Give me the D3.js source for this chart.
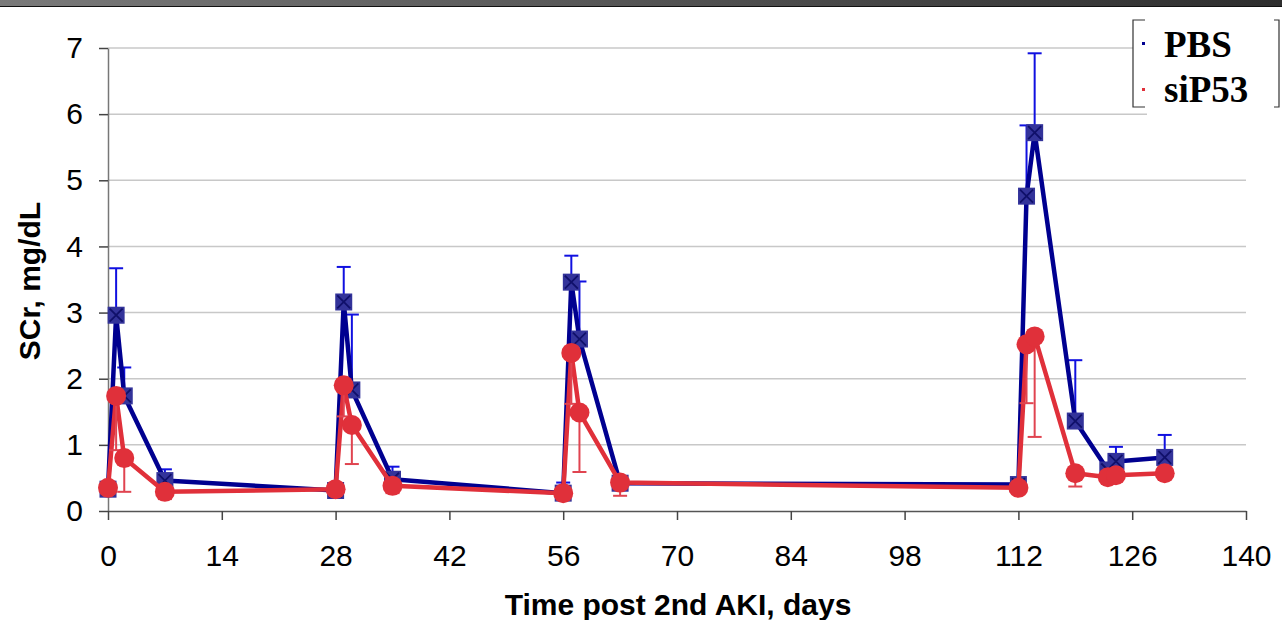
<!DOCTYPE html>
<html>
<head>
<meta charset="utf-8">
<script src="https://cdn.jsdelivr.net/npm/d3@7"></script>
<style>
  body { margin: 0; background: #fff; }
  svg { display: block; }
  .tick-lbl { font-family: "Liberation Sans", Arial, sans-serif; font-size: 30px; fill: #000; }
  .ttl { font-family: "Liberation Sans", Arial, sans-serif; font-size: 30px; font-weight: bold; fill: #000; }
  .leg { font-family: "Liberation Serif", "Times New Roman", serif; font-size: 37px; font-weight: bold; fill: #000; }
</style>
</head>
<body>
<svg id="chart" width="1282" height="620"></svg>
<script>
// days post 2nd AKI
let days = [0, 1, 2, 7, 28, 29, 30, 35, 56, 57, 58, 63, 112, 113, 114, 119, 123, 124, 130];

// PBS group: mean SCr and upper error
let pbs_mean = [0.33, 2.96, 1.74, 0.46, 0.31, 3.16, 1.83, 0.48, 0.27, 3.46, 2.60, 0.42, 0.40, 4.76, 5.72, 1.36, 0.62, 0.75, 0.81];
let pbs_err  = [0, 0.71, 0.43, 0.17, 0, 0.53, 1.14, 0.19, 0.16, 0.40, 0.87, 0, 0, 1.07, 1.20, 0.92, 0, 0.22, 0.34];

// siP53 group: mean SCr and lower error
let sip_mean = [0.35, 1.74, 0.80, 0.29, 0.33, 1.90, 1.30, 0.38, 0.27, 2.39, 1.49, 0.43, 0.35, 2.52, 2.64, 0.57, 0.51, 0.54, 0.57];
let sip_err  = [0.02, 0.82, 0.51, 0.11, 0, 0.47, 0.59, 0.11, 0, 0.77, 0.90, 0.20, 0.03, 0.89, 1.52, 0.20, 0.04, 0.04, 0];

let x_ticks = [0, 14, 28, 42, 56, 70, 84, 98, 112, 126, 140];
let y_ticks = [0, 1, 2, 3, 4, 5, 6, 7];
let series_names = ["PBS", "siP53"];

let svg = d3.select("#chart");

// grey title bar at the very top
let defs = svg.append("defs");
let grad = defs.append("linearGradient").attr("id", "topbar");
grad.append("stop").attr("offset", "0%").attr("stop-color", "#7a7a7a");
grad.append("stop").attr("offset", "100%").attr("stop-color", "#2e2e2e");
svg.append("rect").attr("x", 0).attr("y", 0).attr("width", 1282).attr("height", 6).attr("fill", "url(#topbar)");
svg.append("rect").attr("x", 0).attr("y", 6).attr("width", 1282).attr("height", 1).attr("fill", "#111");

let x = d3.scaleLinear().domain([0, 140]).range([108, 1246]);
let y = d3.scaleLinear().domain([0, 7]).range([511, 48]);

// gridlines
svg.append("g").selectAll("line")
  .data(y_ticks.filter(d => d > 0))
  .enter().append("line")
  .attr("x1", x(0)).attr("x2", x(140))
  .attr("y1", d => y(d)).attr("y2", d => y(d))
  .attr("stroke", "#c8c8c8").attr("stroke-width", 1.5);

// y axis
let yAxis = d3.axisLeft(y).tickValues(y_ticks).tickFormat(d3.format("d")).tickSize(9).tickSizeOuter(0).tickPadding(16);
let gy = svg.append("g").attr("transform", "translate(" + x(0) + ",0)").call(yAxis);
gy.select(".domain").attr("stroke", "#777").attr("stroke-width", 1.5);
gy.selectAll(".tick line").attr("stroke", "#444").attr("stroke-width", 1.5);
gy.selectAll(".tick text").attr("class", "tick-lbl").attr("font-size", null).attr("font-family", null);

// x axis
let xAxis = d3.axisBottom(x).tickValues(x_ticks).tickFormat(d3.format("d")).tickSize(9).tickSizeOuter(0).tickPadding(25);
let gx = svg.append("g").attr("transform", "translate(0," + y(0) + ")").call(xAxis);
gx.select(".domain").attr("stroke", "#555").attr("stroke-width", 1.5);
gx.selectAll(".tick line").attr("stroke", "#444").attr("stroke-width", 1.5);
gx.selectAll(".tick text").attr("class", "tick-lbl").attr("font-size", null).attr("font-family", null);

// axis titles
svg.append("text").attr("class", "ttl")
  .attr("x", 678).attr("y", 615).attr("text-anchor", "middle")
  .text("Time post 2nd AKI, days");
svg.append("text").attr("class", "ttl")
  .attr("transform", "translate(40,281) rotate(-90)").attr("text-anchor", "middle")
  .text("SCr, mg/dL");

let blue_line = "#000090", blue_err = "#1010e0", blue_fill = "#33339a";
let red_line = "#e0303a", red_err = "#e04450";

let pbs = days.map((d, i) => ({ day: d, v: pbs_mean[i], e: pbs_err[i] }));
let sip = days.map((d, i) => ({ day: d, v: sip_mean[i], e: sip_err[i] }));

let line = d3.line().x(d => x(d.day)).y(d => y(d.v));

function errorBars(data, color, dir) {
  let g = svg.append("g");
  let withErr = data.filter(d => d.e > 0);
  g.selectAll(".eb").data(withErr).enter().append("line")
    .attr("x1", d => x(d.day)).attr("x2", d => x(d.day))
    .attr("y1", d => y(d.v)).attr("y2", d => y(d.v + dir * d.e))
    .attr("stroke", color).attr("stroke-width", 2);
  g.selectAll(".cap").data(withErr).enter().append("line")
    .attr("x1", d => x(d.day) - 7).attr("x2", d => x(d.day) + 7)
    .attr("y1", d => y(d.v + dir * d.e)).attr("y2", d => y(d.v + dir * d.e))
    .attr("stroke", color).attr("stroke-width", 2);
}

// PBS series
errorBars(pbs, blue_err, 1);
svg.append("path").datum(pbs).attr("d", line)
  .attr("fill", "none").attr("stroke", blue_line).attr("stroke-width", 4.5).attr("stroke-linejoin", "round");
let sq = svg.append("g").selectAll("g").data(pbs).enter().append("g")
  .attr("transform", d => "translate(" + x(d.day) + "," + y(d.v) + ")");
sq.append("rect").attr("x", -8.5).attr("y", -8.5).attr("width", 17).attr("height", 17).attr("fill", blue_fill);
sq.append("path").attr("d", "M-6.5,-6.5L6.5,6.5M-6.5,6.5L6.5,-6.5").attr("stroke", "#10106a").attr("stroke-width", 1.8);

// siP53 series
svg.append("path").datum(sip).attr("d", line)
  .attr("fill", "none").attr("stroke", red_line).attr("stroke-width", 4.5).attr("stroke-linejoin", "round");
errorBars(sip, red_err, -1);
svg.append("g").selectAll("circle").data(sip).enter().append("circle")
  .attr("cx", d => x(d.day)).attr("cy", d => y(d.v)).attr("r", 10)
  .attr("fill", red_line);

// legend
let leg = svg.append("g");
leg.append("rect").attr("x", 1133).attr("y", 12).attr("width", 149).attr("height", 96).attr("fill", "#fff");
leg.append("rect").attr("x", 1147).attr("y", 107).attr("width", 135).attr("height", 10).attr("fill", "#fff");
leg.append("path").attr("d", "M1145,20H1133V107H1145").attr("fill", "none").attr("stroke", "#333").attr("stroke-width", 1.2);
leg.append("path").attr("d", "M1274,20H1279V107H1274").attr("fill", "none").attr("stroke", "#333").attr("stroke-width", 1.2);
let leg_colors = [blue_line, red_line];
series_names.forEach((name, i) => {
  leg.append("rect").attr("x", 1142).attr("y", 42 + i * 46).attr("width", 3).attr("height", 3).attr("fill", leg_colors[i]);
  leg.append("text").attr("class", "leg").attr("x", 1164).attr("y", 57 + i * 45).text(name);
});
</script>
</body>
</html>
